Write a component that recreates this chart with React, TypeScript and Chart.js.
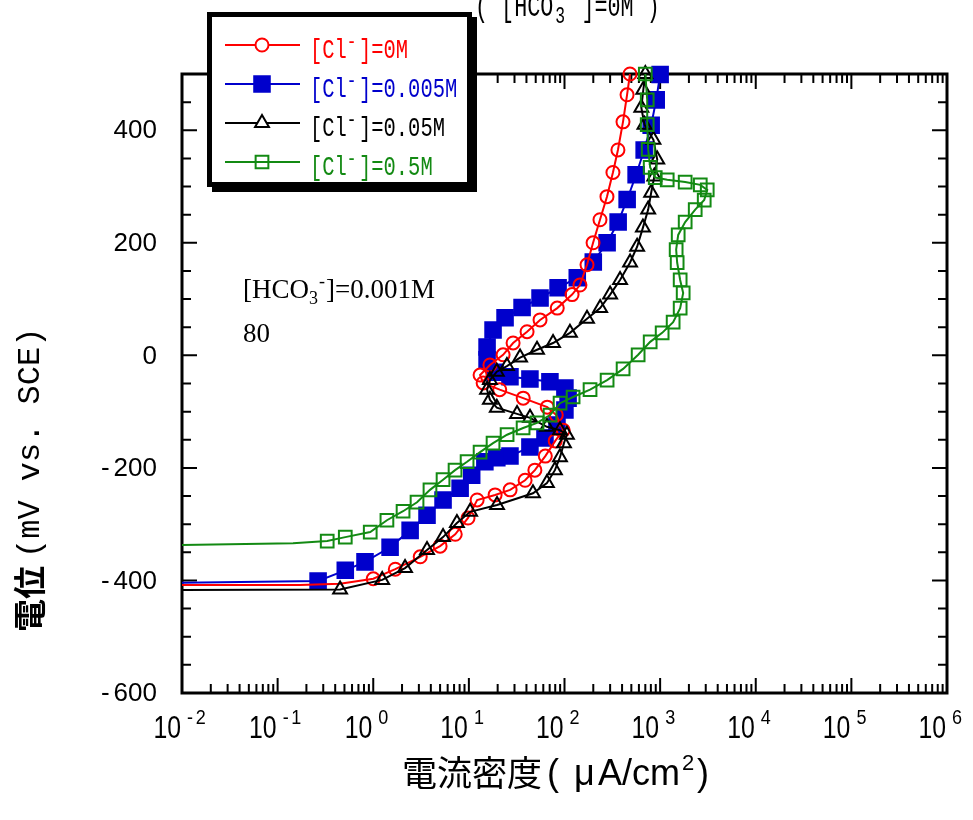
import React, { useEffect, useRef } from "react";
import { Chart, registerables } from "chart.js";
import { drawPoint } from "chart.js/helpers";

Chart.register(...registerables);

const W = 973;
const H = 820;

// Anodic polarization scans: current density (µA/cm²) and potential (mV vs. SCE)
// [Cl-] = 0 M
const cl0Current = [0.01, 0.17, 0.45, 1.0, 1.7, 3.1, 5.0, 7.2, 9.8, 12.2, 18.8, 27, 38.7, 49, 63, 80, 97, 82, 66, 37, 21, 14.1, 13.1, 16.6, 22.8, 29, 40.6, 55.5, 84, 120, 145, 172, 199, 235, 278, 321, 362, 409, 451, 484];
const cl0Potential = [-408, -408, -406, -397, -380, -358, -339, -318, -289, -257, -248, -239, -222, -204, -179, -152, -133, -106, -92, -76, -61, -49, -35, -17, 1, 22, 42, 63, 84, 108, 125, 161, 200, 241, 282, 325, 365, 415, 463, 500];

// [Cl-] = 0.005 M
const cl005Current = [0.01, 0.265, 0.51, 0.82, 1.5, 2.43, 3.65, 5.37, 8.1, 10.7, 14.7, 19.6, 26.9, 43.5, 62.5, 83.4, 101, 109, 101, 70.4, 43.5, 26.9, 18.8, 15.5, 15.5, 17.9, 23.9, 36, 55.5, 85.7, 136, 200, 279, 364, 452, 561, 681, 806, 910, 1000];
const cl005Potential = [-404, -401, -382, -367, -341, -311, -284, -257, -236, -213, -189, -182, -179, -163, -147, -124, -97, -76, -58, -47, -42, -38, -30, -8, 15, 45, 67, 85, 102, 120, 138, 166, 200, 237, 277, 321, 365, 409, 454, 499];

// [Cl-] = 0.05 M
const cl05Current = [0.01, 0.45, 1.24, 2.15, 3.65, 5.37, 7.5, 10.3, 19.7, 46.8, 65.5, 79.4, 89.7, 98.7, 106, 89.7, 65.5, 43.6, 31.9, 19.6, 16.6, 15.5, 16.6, 19.6, 25, 34.3, 51.6, 75.9, 114, 172, 236, 300, 381, 485, 575, 661, 750, 806, 870, 933, 851, 686, 636, 667, 700];
const cl05Potential = [-417, -416, -399, -378, -346, -323, -298, -278, -266, -245, -227, -204, -181, -156, -141, -133, -127, -111, -104, -93, -79, -61, -44, -29, -19, -4, 10, 22, 40, 65, 84, 108, 134, 165, 193, 227, 259, 289, 318, 348, 383, 410, 440, 472, 500];

// [Cl-] = 0.5 M
const cl5Current = [0.01, 0.145, 0.33, 0.51, 0.93, 1.39, 2.05, 2.87, 3.92, 5.37, 7.17, 9.58, 13.1, 17.9, 25.1, 36.9, 51.6, 70.6, 89.9, 123, 185, 279, 410, 589, 787, 1050, 1368, 1620, 1742, 1620, 1507, 1471, 1545, 1828, 2328, 2891, 3109, 2630, 1828, 1186, 889, 787, 750, 733, 733, 700];
const cl5Potential = [-337, -334, -330, -323, -314, -293, -277, -261, -239, -221, -204, -189, -172, -156, -141, -129, -120, -106, -85, -74, -61, -44, -24, 1, 24, 40, 59, 84, 111, 134, 165, 188, 214, 237, 259, 276, 294, 303, 308, 312, 316, 334, 366, 410, 454, 500];

const clLabels = ["0M", "0.005M", "0.05M", "0.5M"];
const xExponents = [-2, -1, 0, 1, 2, 3, 4, 5, 6];
const yLabelValues = [-600, -400, -200, 0, 200, 400];
const yMin = -600;
const yMax = 500;
const bicarbonateNote = "0.001M";
const noteSecondLine = "80";
const titleConc = "0M";

const series = [
  { current: cl0Current, potential: cl0Potential, color: "#ff0000", pointStyle: "circle", radius: 6.5, fill: "rgba(0,0,0,0)", legendFill: "#ffffff", skip: 3, order: 3 },
  { current: cl005Current, potential: cl005Potential, color: "#0000cc", pointStyle: "rect", radius: 11, fill: "#0000cc", legendFill: "#0000cc", skip: 1, order: 4 },
  { current: cl05Current, potential: cl05Potential, color: "#000000", pointStyle: "triangle", radius: 8, fill: "rgba(0,0,0,0)", legendFill: "#ffffff", skip: 1, order: 2 },
  { current: cl5Current, potential: cl5Potential, color: "#138a13", pointStyle: "rect", radius: 9, fill: "rgba(0,0,0,0)", legendFill: "rgba(0,0,0,0)", skip: 2, order: 1 },
];

const MONO = '"Liberation Mono", "DejaVu Sans Mono", monospace';
const SANS = '"Liberation Sans", Arial, sans-serif';
const SERIF = '"Liberation Serif", "Times New Roman", serif';
const CJK = '"Noto Sans CJK JP", "Noto Sans CJK SC", sans-serif';

function squeezed(ctx: CanvasRenderingContext2D, text: string, x: number, y: number, font: string, sx: number, align: CanvasTextAlign = "left", spacing = 0) {
  ctx.save();
  ctx.translate(x, y);
  ctx.scale(sx, 1);
  ctx.font = font;
  (ctx as any).letterSpacing = `${spacing}px`;
  ctx.textAlign = align;
  ctx.textBaseline = "alphabetic";
  ctx.fillText(text, 0, 0);
  ctx.restore();
}

// "[Cl-]=..." in a condensed monospace face with a raised minus sign
function drawClLabel(ctx: CanvasRenderingContext2D, conc: string, x: number, y: number, color: string) {
  const size = 28;
  const sx = 0.73;
  const cell = 0.6 * size * sx;
  ctx.fillStyle = color;
  squeezed(ctx, "[Cl", x, y, `${size}px ${MONO}`, sx);
  squeezed(ctx, "-", x + 3 * cell, y - 10, `${size - 6}px ${MONO}`, sx);
  squeezed(ctx, "]=" + conc, x + 4 * cell, y, `${size}px ${MONO}`, sx);
}

const framePlugin = {
  id: "frameAndText",
  beforeDatasetsDraw(chart: any) {
    const { ctx, chartArea } = chart;
    const { left, right, top, bottom } = chartArea;
    const xs = chart.scales.x;
    const ys = chart.scales.y;
    ctx.save();
    ctx.strokeStyle = "#000";
    ctx.lineWidth = 2;
    ctx.beginPath();
    const major = 15;
    const minor = 9;
    for (let i = 0; i < xExponents.length; i++) {
      const k = xExponents[i];
      for (let m = 1; m <= 9; m++) {
        if (i === xExponents.length - 1 && m > 1) break;
        const px = xs.getPixelForValue(m * Math.pow(10, k));
        const len = m === 1 ? major : minor;
        ctx.moveTo(px, bottom);
        ctx.lineTo(px, bottom - len);
        ctx.moveTo(px, top);
        ctx.lineTo(px, top + len);
      }
    }
    for (let v = yMin; v <= yMax; v += 50) {
      const py = ys.getPixelForValue(v);
      const len = v % 200 === 0 ? major : minor;
      ctx.moveTo(left, py);
      ctx.lineTo(left + len, py);
      ctx.moveTo(right, py);
      ctx.lineTo(right - len, py);
    }
    ctx.stroke();
    ctx.lineWidth = 3;
    ctx.strokeRect(left, top, right - left, bottom - top);
    ctx.restore();
  },
  afterDraw(chart: any) {
    const { ctx, chartArea } = chart;
    const { left, bottom } = chartArea;
    const xs = chart.scales.x;
    const ys = chart.scales.y;
    ctx.save();
    ctx.fillStyle = "#000";

    // y tick labels, minus sign set apart from the digits
    ctx.save();
    for (const v of yLabelValues) {
      const py = ys.getPixelForValue(v);
      const digits = String(Math.abs(v));
      ctx.font = `26px ${SANS}`;
      ctx.textAlign = "right";
      ctx.textBaseline = "middle";
      const xr = left - 25;
      ctx.fillText(digits, xr, py + 1);
      if (v < 0) {
        const w = ctx.measureText(digits).width;
        ctx.fillText("-", xr - w - 4, py + 1);
      }
    }
    ctx.restore();

    // x tick labels: 10 with raised exponent
    for (const k of xExponents) {
      const px = xs.getPixelForValue(Math.pow(10, k));
      squeezed(ctx, "10", px - 1, bottom + 45, `31px ${SANS}`, 0.8, "right");
      squeezed(ctx, String(k), px + 5, bottom + 31, `20px ${SANS}`, 0.9, "left", 3);
    }

    // y axis title, reading bottom to top
    ctx.save();
    ctx.translate(44, 632);
    ctx.rotate(-Math.PI / 2);
    ctx.textAlign = "left";
    ctx.textBaseline = "alphabetic";
    ctx.font = `bold 33px ${CJK}`;
    ctx.fillText("電位", 0, -2);
    const wCjk = ctx.measureText("電位").width;
    ctx.font = `32px ${MONO}`;
    ctx.fillText("(mV vs. SCE)", wCjk + 8, -5);
    ctx.restore();

    // x axis title
    ctx.save();
    ctx.textBaseline = "alphabetic";
    ctx.textAlign = "left";
    ctx.font = `35px ${CJK}`;
    ctx.fillText("電流密度", 402, 786);
    ctx.font = `36px ${SANS}`;
    ctx.fillText("(", 547, 785);
    ctx.fillText("μ", 574, 785);
    ctx.fillText("A/cm", 598, 785);
    ctx.fillText(")", 697, 785);
    ctx.font = `22px ${SANS}`;
    ctx.fillText("2", 682, 770);
    ctx.restore();

    // top title, partly beyond the canvas edge
    {
      const size = 32;
      const sx = 0.68;
      const cell = 0.6 * size * sx;
      const x0 = 475;
      const base = 16;
      squeezed(ctx, "( [HCO", x0, base, `${size}px ${MONO}`, sx);
      squeezed(ctx, "3", x0 + 6 * cell + 2, base + 7, `24px ${MONO}`, sx);
      squeezed(ctx, "-", x0 + 7 * cell + 2, base - 14, `24px ${MONO}`, sx);
      squeezed(ctx, "]=" + titleConc + " )", x0 + 8 * cell + 2, base, `${size}px ${MONO}`, sx);
    }

    // bicarbonate note
    {
      const x0 = 243;
      const base = 298;
      ctx.textBaseline = "alphabetic";
      ctx.textAlign = "left";
      ctx.font = `27px ${SERIF}`;
      ctx.fillText("[HCO", x0, base);
      let x = x0 + ctx.measureText("[HCO").width;
      ctx.font = `18px ${SERIF}`;
      ctx.fillText("3", x, base + 6);
      x += ctx.measureText("3").width + 1;
      ctx.fillText("-", x, base - 11);
      x += ctx.measureText("-").width + 1;
      ctx.font = `27px ${SERIF}`;
      ctx.fillText("]=" + bicarbonateNote, x, base);
      ctx.fillText(noteSecondLine, x0, 342);
    }

    // legend box with drop shadow
    const bx = 207;
    const by = 12;
    const bw = 265;
    const bh = 175;
    ctx.fillStyle = "#000";
    ctx.fillRect(bx + 5, by + 5, bw, bh);
    ctx.fillStyle = "#fff";
    ctx.fillRect(bx, by, bw, bh);
    ctx.strokeStyle = "#000";
    ctx.lineWidth = 5;
    ctx.strokeRect(bx + 2.5, by + 2.5, bw - 5, bh - 5);

    const rowY = [45, 84, 123, 162];
    series.forEach((s, i) => {
      const y = rowY[i];
      ctx.strokeStyle = s.color;
      ctx.lineWidth = 2;
      ctx.beginPath();
      ctx.moveTo(225, y);
      ctx.lineTo(300, y);
      ctx.stroke();
      ctx.fillStyle = s.legendFill;
      ctx.strokeStyle = s.color;
      drawPoint(ctx, { pointStyle: s.pointStyle as any, radius: s.radius, rotation: 0, borderWidth: 2 } as any, 262, y);
      drawClLabel(ctx, clLabels[i], 310, y + 13, s.color);
    });
    ctx.restore();
  },
};

export default function App() {
  const canvasRef = useRef<HTMLCanvasElement | null>(null);

  useEffect(() => {
    const canvas = canvasRef.current;
    if (!canvas) return;
    const datasets = series.map((s, i) => ({
      label: "[Cl-]=" + clLabels[i],
      data: s.current.map((c, j) => ({ x: c, y: s.potential[j] })),
      borderColor: s.color,
      backgroundColor: s.fill,
      pointBorderColor: s.color,
      pointBackgroundColor: s.fill,
      pointStyle: s.pointStyle as any,
      pointRadius: (c: any) => (c.dataIndex < s.skip ? 0 : s.radius),
      pointBorderWidth: 2,
      borderWidth: 2,
      showLine: true,
      tension: 0,
      clip: false as any,
      order: s.order,
    }));

    const chart = new Chart(canvas, {
      type: "scatter",
      data: { datasets },
      options: {
        responsive: false,
        animation: false,
        devicePixelRatio: 1,
        layout: { padding: { top: 74, right: 26, left: 0, bottom: 0 } },
        plugins: { legend: { display: false }, tooltip: { enabled: false } },
        scales: {
          x: {
            type: "logarithmic",
            min: 0.01,
            max: 1e6,
            grid: { display: false, drawTicks: false },
            border: { display: false },
            ticks: { display: false },
            afterFit: (scale: any) => {
              scale.height = 127;
            },
          },
          y: {
            type: "linear",
            min: yMin,
            max: yMax,
            grid: { display: false, drawTicks: false },
            border: { display: false },
            ticks: { display: false },
            afterFit: (scale: any) => {
              scale.width = 182;
            },
          },
        },
      },
      plugins: [framePlugin],
    });
    return () => chart.destroy();
  }, []);

  return (
    <div style={{ position: "absolute", left: 0, top: 0, width: W, height: H, background: "#fff" }}>
      <canvas ref={canvasRef} width={W} height={H} style={{ width: W, height: H, display: "block" }} />
    </div>
  );
}
